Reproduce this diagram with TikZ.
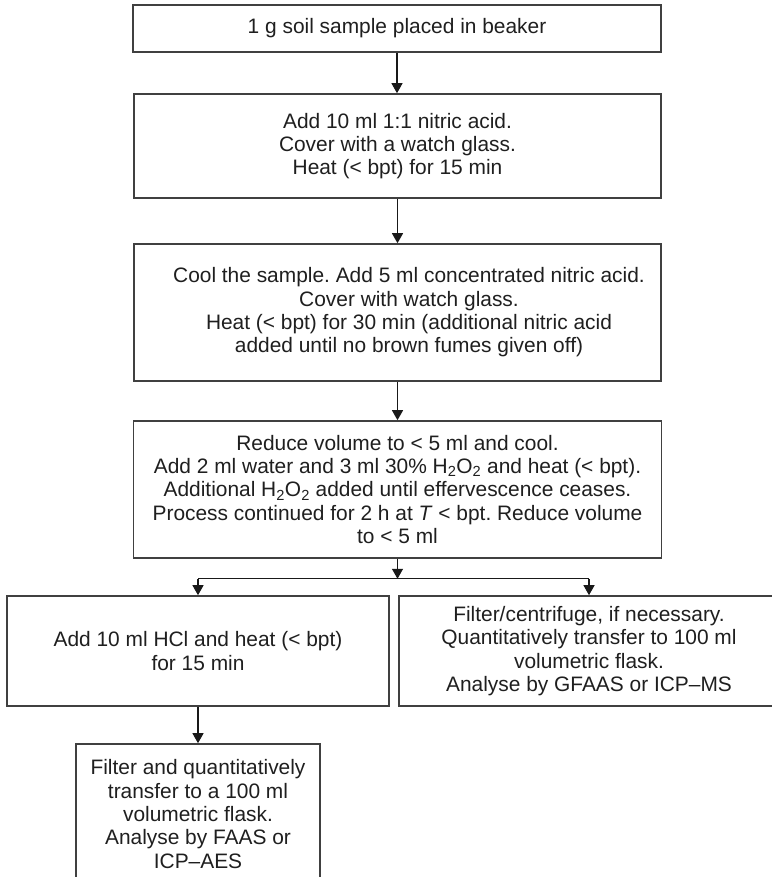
\documentclass[tikz,border=0pt]{standalone}
\usepackage{fontspec}
\setmainfont{Liberation Sans}
\usetikzlibrary{arrows.meta}
\begin{document}
\frenchspacing
\begin{tikzpicture}[x=1pt,y=-1pt,
  box/.style={draw=black!75, line width=1.6pt, rectangle, align=center, inner sep=0pt,
    font=\fontsize{20.9pt}{23.3pt}\selectfont\frenchspacing, text=black!88},
  conn/.style={draw=black!90, line width=1.2pt, -{Triangle[width=11pt,length=10pt]}},
  link/.style={draw=black!90, line width=1.2pt}]
\useasboundingbox (0,0) rectangle (771,877);
\fill[white] (0,0) rectangle (771,877);

\node[box, minimum width=528pt, minimum height=47pt] (b1) at (397,28.5)
  {1 g soil sample placed in beaker};
\node[box, minimum width=527pt, minimum height=104pt] (b2) at (397.5,146)
  {Add 10 ml 1:1 nitric acid.\\Cover with a watch glass.\\Heat (< bpt) for 15 min};
\node[box, minimum width=527pt, minimum height=137pt] (b3) at (397.5,312.5)
  {\hspace*{23pt}Cool the sample. Add 5 ml concentrated nitric acid.\\
   \hspace*{23pt}Cover with watch glass.\\
   \hspace*{23pt}Heat (< bpt) for 30 min (additional nitric acid\\
   \hspace*{23pt}added until no brown fumes given off)};
\node[box, minimum width=528pt, minimum height=137pt] (b4) at (397.5,489.5)
  {Reduce volume to < 5 ml and cool.\\
   Add 2 ml water and 3 ml 30\% H\textsubscript{2}O\textsubscript{2} and heat (< bpt).\\
   Additional H\textsubscript{2}O\textsubscript{2} added until effervescence ceases.\\
   Process continued for 2 h at \textit{T} < bpt. Reduce volume\\
   to < 5 ml};
\node[box, minimum width=382pt, minimum height=110pt] (b5) at (198,651)
  {Add 10 ml HCl and heat (< bpt)\\for 15 min};
\node[box, minimum width=380pt, minimum height=110pt] (b6) at (589,651)
  {Filter/centrifuge, if necessary.\\Quantitatively transfer to 100 ml\\volumetric flask.\\Analyse by GFAAS or ICP--MS};
\node[box, minimum width=244pt, minimum height=140pt] (b7) at (198,814)
  {Filter and quantitatively\\transfer to a 100 ml\\volumetric flask.\\Analyse by FAAS or\\ICP--AES};

\draw[conn] (b1.south) -- (b1.south |- b2.north);
\draw[conn] (b2.south) -- (b2.south |- b3.north);
\draw[conn] (b3.south) -- (b3.south |- b4.north);
\path (b4.south) ++(0,20) coordinate (split);
\draw[conn] (b4.south) -- (split);
\draw[link] (split -| b5.north) -- (split -| b6.north);
\draw[conn] (split -| b5.north) -- (b5.north);
\draw[conn] (split -| b6.north) -- (b6.north);
\draw[conn] (b5.south) -- (b7.north);
\end{tikzpicture}
\end{document}
